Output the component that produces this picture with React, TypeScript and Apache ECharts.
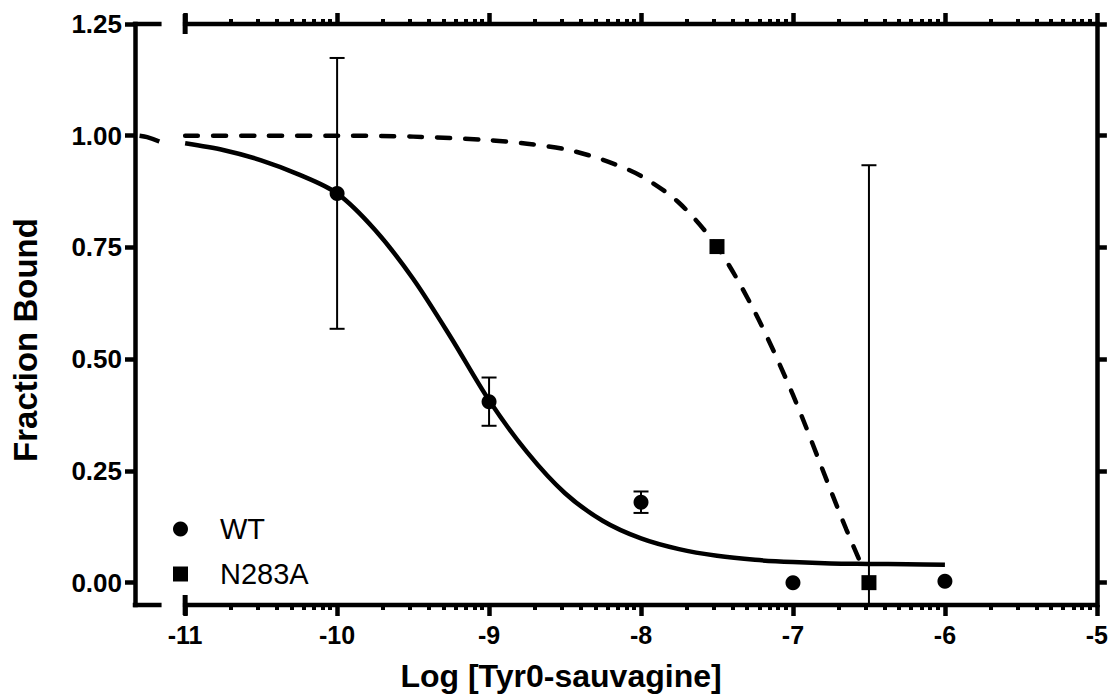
import React, { useEffect, useRef } from "react";
import * as echarts from "echarts";

// ---- data ----
const xTickLabels = [-11, -10, -9, -8, -7, -6, -5];
const yTickLabels = [0, 0.25, 0.5, 0.75, 1.0, 1.25];

const wtX = [-10, -9, -8, -7, -6];
const wtY = [0.871, 0.405, 0.18, 0.0, 0.003];
const wtErr = [0.303, 0.054, 0.024, 0, 0];

const mutX = [-7.5, -6.5];
const mutY = [0.752, 0.0];
const mutErr = [0, 0.934];

// fitted curves
const wtCurveX = [-11.0, -10.75, -10.5, -10.25, -10.0, -9.75, -9.5, -9.25, -9.0, -8.75, -8.5, -8.25, -8.0, -7.75, -7.5, -7.25, -7.0, -6.75, -6.5, -6.25, -6.0];
const wtCurveY = [0.983, 0.968, 0.945, 0.913, 0.871, 0.789, 0.68, 0.548, 0.408, 0.292, 0.2, 0.138, 0.099, 0.075, 0.06, 0.051, 0.046, 0.043, 0.042, 0.041, 0.04];
const wtStubX = [-11.3, -11.25, -11.17];
const wtStubY = [1.0, 0.997, 0.987];

const mutCurveX = [-11.0, -10.5, -10.0, -9.5, -9.0, -8.75, -8.5, -8.25, -8.0, -7.75, -7.5, -7.25, -7.0, -6.75, -6.65, -6.55];
const mutCurveY = [1.0, 1.0, 1.0, 0.998, 0.99, 0.982, 0.97, 0.946, 0.91, 0.85, 0.752, 0.605, 0.42, 0.205, 0.12, 0.04];

const X_MIN = -11.33;
const X_MAX = -5;
const Y_MIN = -0.05;
const Y_MAX = 1.25;
const X_STUB_END = -11.17;

const FONT = "'Liberation Sans', Arial, Helvetica, sans-serif";

const minorTicks: number[] = [];
for (let d = -11; d < -5; d++) {
  for (let k = 2; k <= 9; k++) minorTicks.push(d + Math.log10(k));
}

const zip = (xs: number[], ys: number[]) => xs.map((x, i) => [x, ys[i]]);

export default function App() {
  const ref = useRef<HTMLDivElement>(null);

  useEffect(() => {
    if (!ref.current) return;
    const chart = echarts.init(ref.current, null, { renderer: "svg" });
    const black = "#000";
    const axisW = 4.5;

    const errRender = (params: any, api: any) => {
      const x = api.value(0);
      const y = api.value(1);
      const e = api.value(2);
      if (!e) return null;
      const hiV = Math.min(y + e, Y_MAX);
      const loV = Math.max(y - e, Y_MIN);
      const top = api.coord([x, hiV]);
      const bot = api.coord([x, loV]);
      const cap = 7.5;
      const st = { stroke: black, lineWidth: 2 };
      const children: any[] = [
        { type: "line", shape: { x1: top[0], y1: top[1], x2: bot[0], y2: bot[1] }, style: st },
      ];
      if (hiV === y + e)
        children.push({ type: "line", shape: { x1: top[0] - cap, y1: top[1], x2: top[0] + cap, y2: top[1] }, style: st });
      if (loV === y - e)
        children.push({ type: "line", shape: { x1: bot[0] - cap, y1: bot[1], x2: bot[0] + cap, y2: bot[1] }, style: st });
      return { type: "group", children };
    };

    const majorTickStyle = { show: true, length: 11, lineStyle: { color: black, width: axisW } };
    const minorTickStyle = { show: true, length: 5, lineStyle: { color: black, width: 4 } };

    const baseX = {
      type: "value",
      min: X_MIN,
      max: X_MAX,
      axisLine: { show: false, onZero: false },
      splitLine: { show: false },
    };

    const option: any = {
      animation: false,
      backgroundColor: "#fff",
      grid: { left: 135, right: 14, top: 24, bottom: 92, containLabel: false },
      legend: {
        orient: "vertical",
        left: 168,
        top: 509,
        itemWidth: 15,
        itemHeight: 15,
        itemGap: 15,
        itemStyle: { opacity: 1 },
        textStyle: { fontFamily: FONT, fontSize: 29, color: black, padding: [0, 0, 0, 27], lineHeight: 30 },
        data: [
          { name: "WT", icon: "circle" },
          { name: "N283A", icon: "rect" },
        ],
      },
      xAxis: [
        {
          ...baseX,
          position: "bottom",
          axisTick: { ...majorTickStyle, customValues: xTickLabels },
          axisLabel: {
            customValues: xTickLabels,
            formatter: (v: number) => String(Math.round(v)),
            fontFamily: FONT,
            fontWeight: "bold",
            fontSize: 25,
            color: black,
            margin: 17,
          },
        },
        {
          ...baseX,
          position: "bottom",
          axisTick: { ...minorTickStyle, customValues: minorTicks },
          axisLabel: { show: false },
        },
        {
          ...baseX,
          position: "top",
          axisTick: { ...majorTickStyle, customValues: xTickLabels },
          axisLabel: { show: false },
        },
        {
          ...baseX,
          position: "top",
          axisTick: { ...minorTickStyle, customValues: minorTicks },
          axisLabel: { show: false },
        },
      ],
      yAxis: [
        {
          type: "value",
          position: "left",
          min: Y_MIN,
          max: Y_MAX,
          splitLine: { show: false },
          axisLine: { show: true, onZero: false, lineStyle: { color: black, width: axisW, cap: "square" } },
          axisTick: { show: true, length: 10, lineStyle: { color: black, width: axisW }, customValues: yTickLabels },
          axisLabel: {
            customValues: yTickLabels,
            formatter: (v: number) => v.toFixed(2),
            fontFamily: FONT,
            fontWeight: "bold",
            fontSize: 26,
            color: black,
            margin: 13,
          },
        },
        {
          type: "value",
          position: "right",
          min: Y_MIN,
          max: Y_MAX,
          splitLine: { show: false },
          axisLine: { show: true, onZero: false, lineStyle: { color: black, width: axisW, cap: "square" } },
          axisTick: { show: true, length: 10, lineStyle: { color: black, width: axisW }, customValues: yTickLabels },
          axisLabel: { show: false },
        },
      ],
      series: [
        {
          name: "WT fit",
          type: "line",
          data: zip(wtCurveX, wtCurveY),
          smooth: 0.3,
          symbol: "none",
          lineStyle: { color: black, width: 4.5 },
          silent: true,
          z: 2,
        },
        {
          name: "WT fit stub",
          type: "line",
          data: zip(wtStubX, wtStubY),
          smooth: 0.3,
          symbol: "none",
          lineStyle: { color: black, width: 4.5 },
          silent: true,
          z: 2,
        },
        {
          name: "N283A fit",
          type: "line",
          data: zip(mutCurveX, mutCurveY),
          smooth: 0.3,
          symbol: "none",
          lineStyle: { color: black, width: 4.5, type: [13, 15], cap: "round" },
          silent: true,
          z: 2,
        },
        {
          name: "WT err",
          type: "custom",
          data: wtX.map((x, i) => [x, wtY[i], wtErr[i]]),
          renderItem: errRender,
          encode: { x: 0, y: 1 },
          silent: true,
          z: 3,
        },
        {
          name: "N283A err",
          type: "custom",
          data: mutX.map((x, i) => [x, mutY[i], mutErr[i]]),
          renderItem: errRender,
          encode: { x: 0, y: 1 },
          silent: true,
          z: 3,
        },
        {
          name: "WT",
          type: "scatter",
          data: zip(wtX, wtY),
          symbol: "circle",
          symbolSize: 15,
          itemStyle: { color: black, opacity: 1 },
          z: 4,
        },
        {
          name: "N283A",
          type: "scatter",
          data: zip(mutX, mutY),
          symbol: "rect",
          symbolSize: 15,
          itemStyle: { color: black, opacity: 1 },
          z: 4,
        },
      ],
    };

    chart.setOption(option);

    // frame lines with axis breaks, placed through the chart's own scales
    const px = (x: number, y: number) => chart.convertToPixel({ gridIndex: 0 }, [x, y]) as number[];
    const graphics: any[] = [];
    const lineStyle = { stroke: black, lineWidth: axisW, lineCap: "square" };
    [Y_MIN, Y_MAX].forEach((yv) => {
      const a = px(X_MIN, yv);
      const b = px(X_STUB_END, yv);
      const c = px(-11, yv);
      const d = px(X_MAX, yv);
      graphics.push({ type: "line", shape: { x1: a[0], y1: a[1], x2: b[0], y2: b[1] }, style: lineStyle, z: 10 });
      graphics.push({ type: "line", shape: { x1: c[0], y1: c[1], x2: d[0], y2: d[1] }, style: lineStyle, z: 10 });
      graphics.push({
        type: "line",
        shape: { x1: c[0], y1: c[1] - 10, x2: c[0], y2: c[1] + 10 },
        style: { stroke: black, lineWidth: 5, lineCap: "butt" },
        z: 10,
      });
    });
    graphics.push({
      type: "text",
      x: 561,
      y: 676,
      style: {
        text: "Log [Tyr0-sauvagine]",
        font: `bold 32px ${FONT}`,
        fill: black,
        textAlign: "center",
        textVerticalAlign: "middle",
      },
    });
    graphics.push({
      type: "text",
      x: 25,
      y: 340,
      rotation: Math.PI / 2,
      style: {
        text: "Fraction Bound",
        font: `bold 33px ${FONT}`,
        fill: black,
        textAlign: "center",
        textVerticalAlign: "middle",
      },
    });
    chart.setOption({ graphic: graphics });

    return () => chart.dispose();
  }, []);

  return (
    <div
      ref={ref}
      style={{ position: "fixed", left: 0, top: 0, width: 1111, height: 697, background: "#fff" }}
    />
  );
}
